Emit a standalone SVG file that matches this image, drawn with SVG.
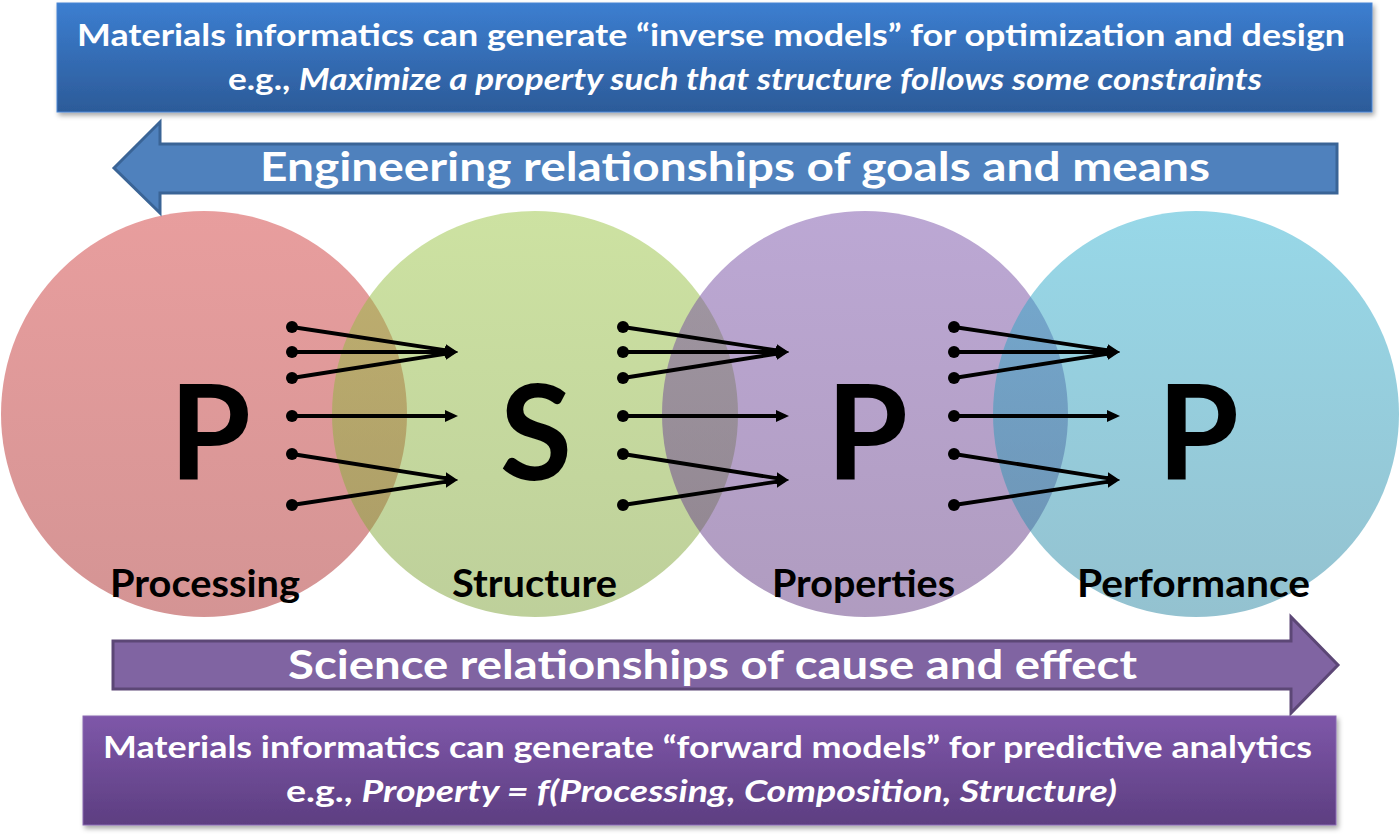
<svg xmlns="http://www.w3.org/2000/svg" width="1400" height="835" viewBox="0 0 1400 835">
<style>
.t{font-family:Lato,'Open Sans','Liberation Sans',sans-serif;font-weight:bold}
.w{fill:#ffffff}
.k{fill:#000000}
.it{font-style:italic}
.circ{fill-opacity:0.5}
.ln{stroke:#000;stroke-width:3.8;fill:none;marker-end:url(#ah)}
.dot{fill:#000}
</style>
<defs>
<marker id="ah" markerUnits="userSpaceOnUse" markerWidth="15" markerHeight="13" refX="8" refY="6" orient="auto">
<path d="M0,0 L13,6 L0,12 Z" fill="#000"/>
</marker>
<linearGradient id="gRed" x1="0" y1="0" x2="0" y2="1"><stop offset="0" stop-color="#D13D3D"/><stop offset="1" stop-color="#AA2A2A"/></linearGradient>
<linearGradient id="gGreen" x1="0" y1="0" x2="0" y2="1"><stop offset="0" stop-color="#9BC545"/><stop offset="1" stop-color="#7DA137"/></linearGradient>
<linearGradient id="gPurple" x1="0" y1="0" x2="0" y2="1"><stop offset="0" stop-color="#7951A9"/><stop offset="1" stop-color="#613981"/></linearGradient>
<linearGradient id="gCyan" x1="0" y1="0" x2="0" y2="1"><stop offset="0" stop-color="#31B1D1"/><stop offset="1" stop-color="#2985A1"/></linearGradient>
<linearGradient id="gBlueBox" x1="0" y1="0" x2="0" y2="1"><stop offset="0" stop-color="#3C7ED0"/><stop offset="1" stop-color="#2C5B99"/></linearGradient>
<linearGradient id="gPurpBox" x1="0" y1="0" x2="0" y2="1"><stop offset="0" stop-color="#7E57A9"/><stop offset="1" stop-color="#5D3E81"/></linearGradient>
<filter id="sh" x="-5%" y="-20%" width="110%" height="150%">
<feDropShadow dx="2" dy="3" stdDeviation="2.5" flood-color="#000" flood-opacity="0.35"/>
</filter>
</defs>

<g id="node-processing">
<circle class="circ" cx="204" cy="414" r="203" fill="url(#gRed)"/>
<text class="t k" x="210" y="480" font-size="132" text-anchor="middle">P</text>
<text class="t k" x="110" y="597" font-size="38" textLength="190" lengthAdjust="spacingAndGlyphs">Processing</text>
</g>
<g id="node-structure">
<circle class="circ" cx="535" cy="414" r="203" fill="url(#gGreen)"/>
<text class="t k" x="536" y="480" font-size="132" text-anchor="middle">S</text>
<text class="t k" x="452" y="597" font-size="38" textLength="165" lengthAdjust="spacingAndGlyphs">Structure</text>
</g>
<g id="node-properties">
<circle class="circ" cx="865" cy="414" r="203" fill="url(#gPurple)"/>
<text class="t k" x="867" y="480" font-size="132" text-anchor="middle">P</text>
<text class="t k" x="772" y="597" font-size="38" textLength="183" lengthAdjust="spacingAndGlyphs">Properties</text>
</g>
<g id="node-performance">
<circle class="circ" cx="1196" cy="414" r="203" fill="url(#gCyan)"/>
<text class="t k" x="1198" y="480" font-size="132" text-anchor="middle">P</text>
<text class="t k" x="1077" y="597" font-size="38" textLength="233" lengthAdjust="spacingAndGlyphs">Performance</text>
</g>

<g id="connectors">
<g transform="translate(292,0)">
<path class="ln" d="M0,327 L161.05,351.4"/>
<path class="ln" d="M0,352 L161,352"/>
<path class="ln" d="M0,378 L161.05,352.62"/>
<path class="ln" d="M0,416 L161,416"/>
<path class="ln" d="M0,454 L161.05,479.38"/>
<path class="ln" d="M0,505 L161.05,480.6"/>
<circle class="dot" cx="0" cy="327" r="6"/><circle class="dot" cx="0" cy="352" r="6"/><circle class="dot" cx="0" cy="378" r="6"/><circle class="dot" cx="0" cy="416" r="6"/><circle class="dot" cx="0" cy="454" r="6"/><circle class="dot" cx="0" cy="505" r="6"/>
</g>
<g transform="translate(623,0)">
<path class="ln" d="M0,327 L161.05,351.4"/>
<path class="ln" d="M0,352 L161,352"/>
<path class="ln" d="M0,378 L161.05,352.62"/>
<path class="ln" d="M0,416 L161,416"/>
<path class="ln" d="M0,454 L161.05,479.38"/>
<path class="ln" d="M0,505 L161.05,480.6"/>
<circle class="dot" cx="0" cy="327" r="6"/><circle class="dot" cx="0" cy="352" r="6"/><circle class="dot" cx="0" cy="378" r="6"/><circle class="dot" cx="0" cy="416" r="6"/><circle class="dot" cx="0" cy="454" r="6"/><circle class="dot" cx="0" cy="505" r="6"/>
</g>
<g transform="translate(954,0)">
<path class="ln" d="M0,327 L161.05,351.4"/>
<path class="ln" d="M0,352 L161,352"/>
<path class="ln" d="M0,378 L161.05,352.62"/>
<path class="ln" d="M0,416 L161,416"/>
<path class="ln" d="M0,454 L161.05,479.38"/>
<path class="ln" d="M0,505 L161.05,480.6"/>
<circle class="dot" cx="0" cy="327" r="6"/><circle class="dot" cx="0" cy="352" r="6"/><circle class="dot" cx="0" cy="378" r="6"/><circle class="dot" cx="0" cy="416" r="6"/><circle class="dot" cx="0" cy="454" r="6"/><circle class="dot" cx="0" cy="505" r="6"/>
</g>
</g>

<g id="engineering-arrow">
<polygon points="114,168 160,122 160,144 1337,144 1337,193 160,193 160,213" fill="#4F81BD" stroke="#3A6496" stroke-width="3" stroke-linejoin="miter"/>
<text class="t w" x="260" y="181" font-size="40" textLength="950" lengthAdjust="spacingAndGlyphs">Engineering relationships of goals and means</text>
</g>

<g id="science-arrow">
<polygon points="113,641 1291,641 1291,617 1338,665 1291,713 1291,689 113,689" fill="#8064A2" stroke="#5C4776" stroke-width="3" stroke-linejoin="miter"/>
<text class="t w" x="288" y="679" font-size="40" textLength="849" lengthAdjust="spacingAndGlyphs">Science relationships of cause and effect</text>
</g>

<g id="inverse-box">
<rect x="57" y="3" width="1315" height="109" fill="url(#gBlueBox)" stroke="#4A86D4" stroke-width="1" filter="url(#sh)"/>
<text class="t w" x="77" y="46" font-size="30" textLength="1268" lengthAdjust="spacingAndGlyphs">Materials informatics can generate “inverse models” for optimization and design</text>
<text class="t w" x="228" y="90" font-size="30" textLength="1034" lengthAdjust="spacingAndGlyphs">e.g., <tspan class="it">Maximize a property such that structure follows some constraints</tspan></text>
</g>

<g id="forward-box">
<rect x="83" y="716" width="1253" height="109" fill="url(#gPurpBox)" stroke="#8A68B2" stroke-width="1" filter="url(#sh)"/>
<text class="t w" x="103" y="758" font-size="30" textLength="1209" lengthAdjust="spacingAndGlyphs">Materials informatics can generate “forward models” for predictive analytics</text>
<text class="t w" x="286" y="802" font-size="30" textLength="831" lengthAdjust="spacingAndGlyphs">e.g., <tspan class="it">Property = f(Processing, Composition, Structure)</tspan></text>
</g>
</svg>
